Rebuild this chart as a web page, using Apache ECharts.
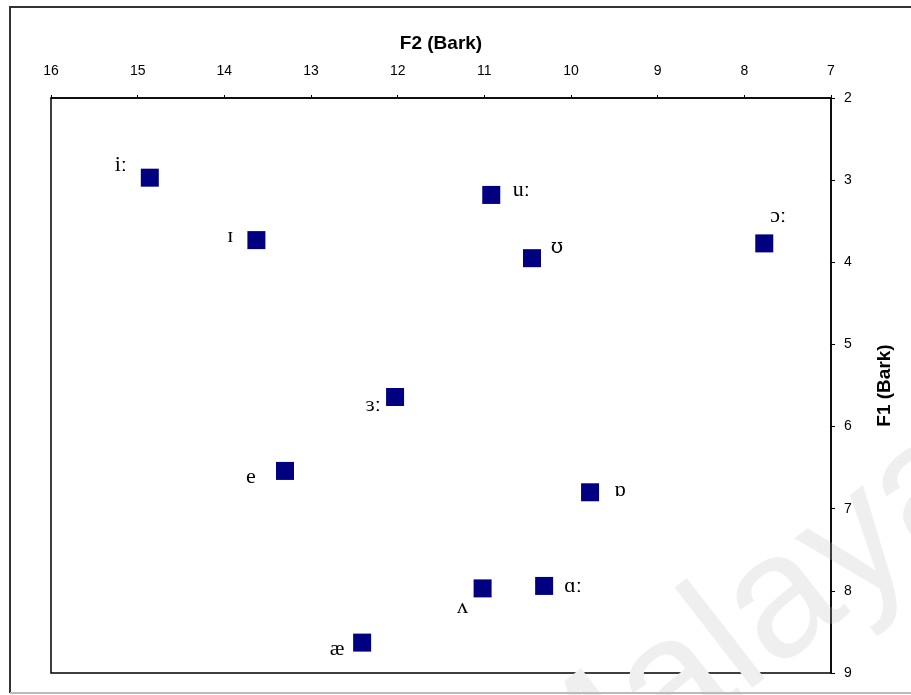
<!DOCTYPE html>
<html>
<head>
<meta charset="utf-8">
<script src="https://cdn.jsdelivr.net/npm/echarts@6/dist/echarts.min.js"></script>
<style>
  html, body { margin: 0; padding: 0; background: #fff; }
  #chart { width: 911px; height: 695px; }
</style>
</head>
<body>
<div id="chart"></div>
<script>
// Vowel formant means (Bark)
const vowels = ['iː', 'ɪ', 'uː', 'ʊ', 'ɔː', 'ɜː', 'e', 'ɒ', 'ʌ', 'ɑː', 'æ'];
const f2 = [14.86, 13.63, 10.92, 10.45, 7.77, 12.03, 13.30, 9.78, 11.02, 10.31, 12.41];
const f1 = [2.97, 3.73, 3.18, 3.95, 3.77, 5.64, 6.54, 6.80, 7.97, 7.94, 8.63];

// Where each vowel symbol sits relative to its marker (px)
const labelOffsets = [
  [-29, -12], [-26, -4], [30, -5], [25, -10], [14, -27], [-22, 8],
  [-34, 6], [30, -2], [-20, 19], [29, 0], [-25, 7]
];

const points = vowels.map((v, i) => ({
  name: v,
  value: [f2[i], f1[i]],
  label: v === 'ʊ'
    ? { offset: labelOffsets[i], fontFamily: 'DejaVu Serif', fontSize: 20 }
    : { offset: labelOffsets[i] }
}));

const chart = echarts.init(document.getElementById('chart'), null, { renderer: 'canvas' });

chart.setOption({
  backgroundColor: '#fff',
  animation: false,
  grid: {
    left: 51, right: 80, top: 98, bottom: 22,
    show: true, borderColor: '#000', borderWidth: 1.5, backgroundColor: 'transparent'
  },
  graphic: [
    {
      type: 'text', x: 575, y: 875, rotation: Math.PI * 0.21, z: 0, silent: true,
      style: {
        text: 'Malaya', fontSize: 175, fontFamily: 'Liberation Sans',
        fill: '#efefef', textAlign: 'left', textVerticalAlign: 'bottom'
      }
    },
    {
      type: 'polyline', z: 10, silent: true,
      shape: { points: [[911, 7], [10, 7], [10, 693]] },
      style: { stroke: '#333', lineWidth: 2, fill: null }
    },
    {
      type: 'line', z: 10, silent: true,
      shape: { x1: 10, y1: 693, x2: 911, y2: 693 },
      style: { stroke: '#bbb', lineWidth: 2 }
    }
  ],
  xAxis: {
    type: 'value', position: 'top', inverse: true,
    min: 7, max: 16, interval: 1,
    name: 'F2 (Bark)', nameLocation: 'middle', nameGap: 45,
    nameTextStyle: { fontFamily: 'Liberation Sans', fontWeight: 'bold', fontSize: 19, color: '#000' },
    axisLine: { lineStyle: { color: '#000', width: 1.5 } },
    axisTick: { show: true, length: 3, lineStyle: { color: '#000' } },
    axisLabel: { margin: 20, fontFamily: 'Liberation Sans', fontSize: 14, color: '#000' },
    splitLine: { show: false }
  },
  yAxis: {
    type: 'value', position: 'right', inverse: true,
    min: 2, max: 9, interval: 1,
    name: 'F1 (Bark)', nameLocation: 'middle', nameGap: 44, nameRotate: 90,
    nameTextStyle: { fontFamily: 'Liberation Sans', fontWeight: 'bold', fontSize: 19, color: '#000' },
    axisLine: { lineStyle: { color: '#000', width: 1.5 } },
    axisTick: { show: true, length: 4, lineStyle: { color: '#000' } },
    axisLabel: { margin: 13, fontFamily: 'Liberation Sans', fontSize: 14, color: '#000' },
    splitLine: { show: false }
  },
  series: [{
    type: 'scatter',
    symbol: 'rect',
    symbolSize: 18,
    itemStyle: { color: '#000080', opacity: 1 },
    z: 5,
    label: {
      show: true, position: 'inside',
      formatter: p => p.name,
      fontFamily: 'Liberation Serif', fontSize: 22, color: '#000'
    },
    data: points
  }]
});
</script>
</body>
</html>
